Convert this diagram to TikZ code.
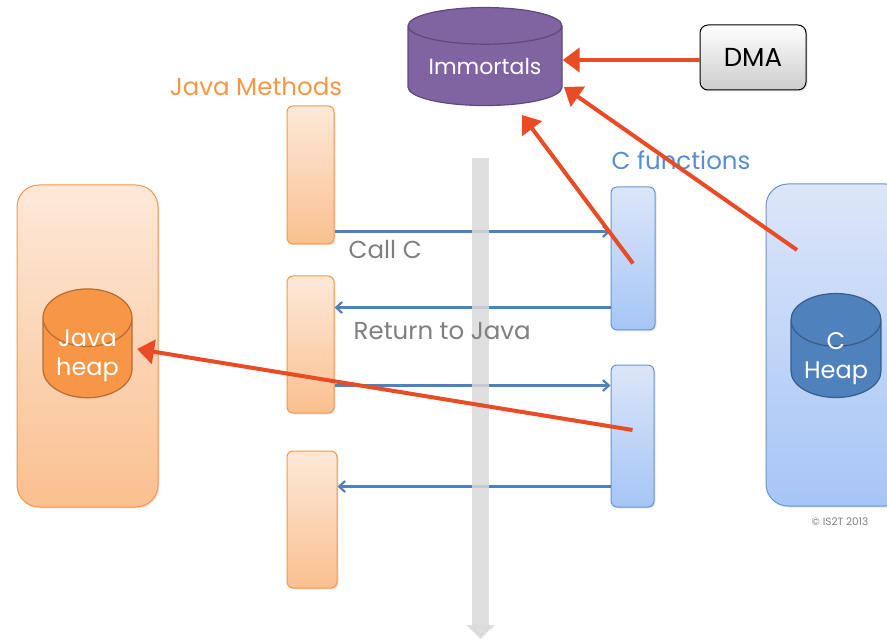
\documentclass[tikz,border=0pt]{standalone}
\usepackage{fontspec}
\setmainfont{Poppins}
\usetikzlibrary{positioning,calc,arrows.meta,shapes.geometric,shadows}

\definecolor{javaorange}{HTML}{F79646}
\definecolor{javalight}{HTML}{FDE9D9}
\definecolor{javadark}{HTML}{FAC090}
\definecolor{heaporange}{HTML}{F79646}
\definecolor{heaporangeline}{HTML}{B66D31}
\definecolor{cblue}{HTML}{4F81BD}
\definecolor{cline}{HTML}{6A95CC}
\definecolor{clight}{HTML}{DCE6F8}
\definecolor{cdark}{HTML}{A6C5F7}
\definecolor{cheapline}{HTML}{385D8A}
\definecolor{immpurple}{HTML}{8064A2}
\definecolor{immline}{HTML}{5F497A}
\definecolor{arrowred}{HTML}{E94B25}
\definecolor{labelgrey}{HTML}{7F7F7F}
\definecolor{ctitle}{HTML}{558ED5}

\tikzset{
  shadowed/.style={drop shadow={opacity=0.2, shadow xshift=1.5pt, shadow yshift=-1.5pt}},
  javabox/.style={shadowed, draw=javaorange, line width=1pt, rounded corners=6pt,
    top color=javalight, bottom color=javadark, inner sep=0pt},
  cbox/.style={shadowed, draw=cline, line width=1pt, rounded corners=6pt,
    top color=clight, bottom color=cdark, inner sep=0pt},
  heap/.style={cylinder, shape border rotate=90, draw, line width=1.2pt,
    text=white, align=center, inner sep=0pt, font=\fontsize{22}{24}\selectfont},
  heaptext/.style={text=white, align=center, inner sep=0pt, font=\fontsize{24}{29}\selectfont},
  redarrow/.style={draw=arrowred, line width=4pt, -{Triangle[length=17pt,width=24pt]}},
  callarrow/.style={draw=cblue, line width=2.2pt, -{Straight Barb[length=6pt,width=11pt]}},
  lbl/.style={text=labelgrey, font=\fontsize{24.5}{26}\selectfont, inner sep=0pt},
  title/.style={font=\fontsize{24.5}{26}\selectfont, inner sep=0pt},
}

\begin{document}
\begin{tikzpicture}[x=1pt, y=-1pt]
        \useasboundingbox (0,0) rectangle (887,639);
        \clip (0,0) rectangle (887,639);

        % 两侧的大框
        \node[javabox, rounded corners=22pt, minimum width=141, minimum height=322] (jbox) at (87.5,346) {};
        \node[cbox, rounded corners=22pt, minimum width=141, minimum height=322] (cheapbox) at (836.5,345) {};
        \node[heap, fill=heaporange, draw=heaporangeline, minimum width=89, minimum height=104, aspect=1.0] (jheap) at (87.5,358) {\phantom{heap}};
        \node[heaptext] (jheaplbl) at (87.5,356) {Java\\heap};
        \node[heap, fill=cblue, draw=cheapline, minimum width=90, minimum height=104, aspect=0.9] (cheap) at (836,359) {\phantom{Heap}};
        \node[heaptext] (cheaplbl) at (836,359) {C\\Heap};

        % Java 方法与 C 函数
        \node[javabox, minimum width=47, minimum height=138] (jm1) at (310.5,175) {};
        \node[javabox, minimum width=47, minimum height=137] (jm2) at (310.5,344.5) {};
        \node[javabox, minimum width=50, minimum height=137] (jm3) at (312,519.5) {};
        \node[cbox, minimum width=44, minimum height=143] (cf1) at (633,258.5) {};
        \node[cbox, minimum width=43, minimum height=142] (cf2) at (632.5,436) {};
        \node[title, text=javaorange] (jtitle) at (256,87) {Java Methods};
        \node[title, text=ctitle] (ctitle) at (681,160) {C functions};

        % 顶部
        \node[heap, fill=immpurple, draw=immline, minimum width=154, minimum height=98, aspect=0.325] (imm) at (485,66) {Immortals};
        \node[shadowed, draw=black, line width=1pt, rounded corners=8pt, top color=white, bottom color=black!20,
          minimum width=106, minimum height=65, font=\fontsize{26}{28}\selectfont] (dma) at (753,57.5) {DMA};

        % 调用与返回
        \draw[callarrow] (jm1.south east) ++(0,-13) coordinate (call1) -- (call1 -| cf1.west);
        \draw[callarrow] (cf1.south west) ++(0,-23) coordinate (ret1) -- (ret1 -| jm2.east);
        \draw[callarrow] (jm2.south east) ++(0,-28) coordinate (call2) -- (call2 -| cf2.west);
        \draw[callarrow] (cf2.south west) ++(0,-21) coordinate (ret2) -- (ret2 -| jm3.east);

        % 时间轴
        \draw[draw=black!15, opacity=0.85, line width=17pt, -{Triangle[length=14pt,width=28pt]}] (480.5,158) -- (480.5,639);

        \node[lbl, below right=9pt and 14pt of call1] (calllbl) {Call C};
        \node[lbl, below right=15pt and 19pt of ret1 -| jm2.east] (retlbl) {Return to Java};

        % 红色箭头
        \coordinate (immR) at (564,87);
        \coordinate (immB) at (522,115);
        \coordinate (cfrom) at (797,250);
        \coordinate (jheapR) at (137,349);
        \draw[redarrow] ([yshift=-2.5]dma.west) -- ([yshift=-2.5]imm.east |- dma.west);
        \draw[redarrow] (cfrom) -- (immR);
        \draw[redarrow] ($(cf1)+(0,5)$) -- (immB);
        \draw[redarrow] ($(cf2)+(0,-6)$) -- (jheapR);

        \node[text=labelgrey, font=\fontsize{10.5}{11}\selectfont, inner sep=0pt] (copy) at (840,522) {© IS2T 2013};
\end{tikzpicture}
\end{document}
